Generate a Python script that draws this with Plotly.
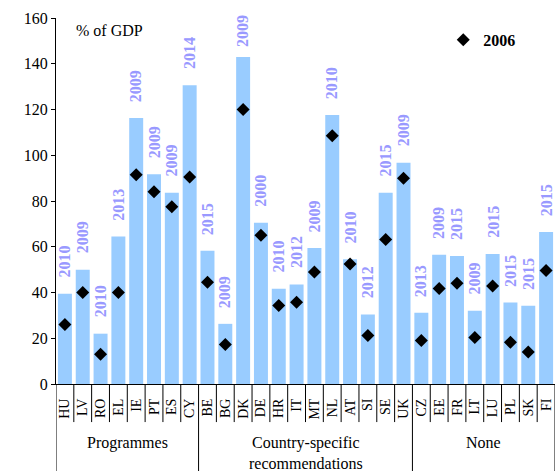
import plotly.graph_objects as go

countries = ["HU", "LV", "RO", "EL", "IE", "PT", "ES", "CY",
             "BE", "BG", "DK", "DE", "HR", "IT", "MT", "NL", "AT", "SI", "SE", "UK",
             "CZ", "EE", "FR", "LT", "LU", "PL", "SK", "FI"]
peak_debt = [39.5, 50, 22, 64.5, 116.3, 91.7, 83.6, 130.6,
             58.2, 26.3, 143, 70.5, 41.6, 43.5, 59.4, 117.6, 54.5, 30.4, 83.6, 96.7,
             31.1, 56.5, 56, 32, 56.8, 35.6, 34.2, 66.4]
peak_year = ["2010", "2009", "2010", "2013", "2009", "2009", "2009", "2014",
             "2015", "2009", "2009", "2000", "2010", "2012", "2009", "2010", "2010", "2012", "2015", "2009",
             "2013", "2009", "2015", "2009", "2015", "2015", "2015", "2015"]
debt_2006 = [26, 40, 13, 40, 91.5, 84, 77.5, 90.5,
             44.5, 17.3, 120, 65, 34.3, 35.7, 49, 108.5, 52.5, 21.2, 63.2, 90,
             19, 41.8, 44, 20.3, 42.8, 18.2, 14, 49.6]
groups = ["Programmes", "Country-specific<br>recommendations", "None"]
group_sizes = [8, 12, 8]

FONT = "Liberation Serif"
Y_MAX = 160

fig = go.Figure()
fig.add_trace(go.Bar(
    x=countries, y=peak_debt, marker=dict(color="#99CCFF", line=dict(width=0)),
    showlegend=False, hoverinfo="skip"))
fig.add_trace(go.Scatter(
    x=countries, y=debt_2006, mode="markers", name="2006",
    marker=dict(symbol="diamond", color="black", size=10)))

# year labels above bars (pushed down a little when close to the top of the axis)
for c, v, yr in zip(countries, peak_debt, peak_year):
    shift = 14 if v < 138 else 8
    fig.add_annotation(x=c, y=v, text=yr, textangle=-90, showarrow=False,
                       xref="x", yref="y", yanchor="bottom", yshift=shift,
                       font=dict(family=FONT, size=16, color="#9999FF", weight="bold"))

# separators between categories and groups
boundaries = []
pos = 0
for s in group_sizes:
    boundaries.append(pos)
    pos += s
boundaries.append(pos)
for i in range(len(countries) + 1):
    is_group = i in boundaries
    fig.add_shape(type="line", xref="x", yref="paper",
                  x0=i - 0.5, x1=i - 0.5, y0=0, y1=-0.24 if is_group else -0.104,
                  line=dict(color="black", width=1))

# group labels
for g, (start, size) in zip(groups, zip(boundaries[:-1], group_sizes)):
    fig.add_annotation(x=start + (size - 1) / 2, y=-0.13, xref="x", yref="paper",
                       text=g, showarrow=False, yanchor="top",
                       font=dict(family=FONT, size=16, color="black"))

fig.add_annotation(x=0.036, y=0.967, xref="paper", yref="paper", text="% of GDP",
                   showarrow=False, xanchor="left", yanchor="middle",
                   font=dict(family=FONT, size=16, color="black"))

fig.update_layout(
    width=555, height=471,
    margin=dict(l=56, r=0, t=18, b=87),
    plot_bgcolor="white", paper_bgcolor="white",
    bargap=0.216,
    font=dict(family=FONT, size=16, color="black"),
    legend=dict(x=0.776, y=0.94, xanchor="left", yanchor="middle",
                font=dict(family=FONT, size=16, color="black", weight="bold"),
                bgcolor="rgba(0,0,0,0)"),
    xaxis=dict(type="category", showline=True, linecolor="black", linewidth=1,
               ticks="", tickangle=-90, tickfont=dict(family=FONT, size=14),
               ticklabelstandoff=8, showgrid=False, range=[-0.5, len(countries) - 0.5]),
    yaxis=dict(range=[0, Y_MAX], dtick=20, showline=True, linecolor="black", linewidth=1,
               ticks="outside", ticklen=4, tickcolor="black", showgrid=False,
               zeroline=False, tickfont=dict(family=FONT, size=16)),
)

fig.write_html("out.html", config={"displayModeBar": False},
               post_script="document.body.style.margin='0';document.body.style.overflow='hidden';")
